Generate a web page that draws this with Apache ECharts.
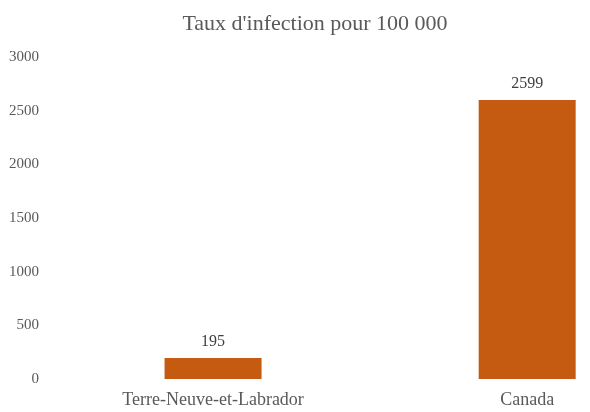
<!DOCTYPE html>
<html><head><meta charset="utf-8">
<script src="https://cdn.jsdelivr.net/npm/echarts@6/dist/echarts.min.js"></script>
<style>html,body{margin:0;padding:0;background:#fff}#c{width:590px;height:412px}</style>
</head><body><div id="c"></div>
<script>
const categories = ["Terre-Neuve-et-Labrador", "Canada"];
const values = [195, 2599];
const title = "Taux d'infection pour 100 000";
const yTicks = { min: 0, max: 3000, interval: 500 };

const chart = echarts.init(document.getElementById('c'), null, {renderer: 'canvas'});
const font = "'Liberation Serif', 'Times New Roman', serif";
chart.setOption({
  animation: false,
  backgroundColor: '#ffffff',
  title: {
    text: title, left: 310, top: 8, textAlign: 'center',
    textStyle: { fontFamily: font, fontSize: 22, fontWeight: 'normal', color: '#595959' }
  },
  grid: { left: 56, top: 57, right: 0, bottom: 33 },
  xAxis: {
    type: 'value', min: -0.5, max: 1.2,
    splitLine: { show: false }, axisLine: { show: false }, axisTick: { show: false },
    axisLabel: {
      customValues: categories.map((c, i) => i),
      formatter: v => categories[Math.round(v)] || '',
      fontFamily: font, fontSize: 18, color: '#595959', margin: 12
    }
  },
  yAxis: {
    type: 'value', min: yTicks.min, max: yTicks.max, interval: yTicks.interval,
    splitLine: { show: false }, axisLine: { show: false }, axisTick: { show: false },
    axisLabel: { formatter: v => String(v), fontFamily: font, fontSize: 15, color: '#595959', margin: 17 }
  },
  series: [{
    type: 'bar', data: values.map((v, i) => [i, v]), barWidth: 97,
    itemStyle: { color: '#C55A11' },
    label: { show: true, position: 'top', distance: 8, formatter: p => String(p.value[1]),
             fontFamily: font, fontSize: 16, color: '#404040' }
  }]
});
</script></body></html>
